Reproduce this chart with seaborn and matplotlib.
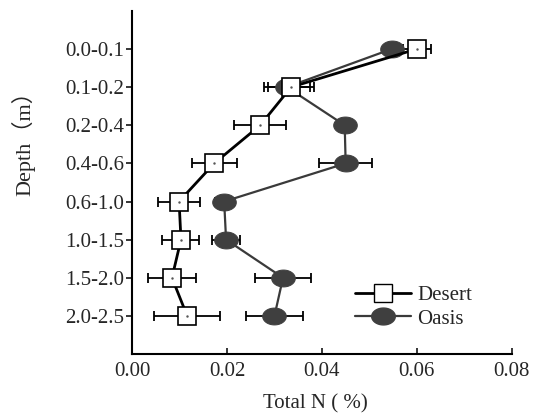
import numpy as np
import seaborn as sns
import matplotlib.pyplot as plt
from matplotlib.lines import Line2D
import warnings
warnings.filterwarnings('ignore')

depth = ["0.0-0.1", "0.1-0.2", "0.2-0.4", "0.4-0.6",
         "0.6-1.0", "1.0-1.5", "1.5-2.0", "2.0-2.5"]
desert = [0.0600, 0.0335, 0.0270, 0.0173, 0.0099, 0.0103, 0.0084, 0.0116]
desert_err = [0.0030, 0.0048, 0.0055, 0.0047, 0.0045, 0.0039, 0.0050, 0.0070]
oasis = [0.0547, 0.0326, 0.0448, 0.0450, 0.0194, 0.0198, 0.0318, 0.0300]
oasis_err = [0.0012, 0.0048, 0.0000, 0.0056, 0.0020, 0.0030, 0.0060, 0.0060]

sns.set_style("ticks")
plt.rcParams["font.family"] = ["Liberation Serif", "Noto Sans CJK SC"]

# marcador elíptico para Oasis
t = np.linspace(0, 2 * np.pi, 40)
ellipse = list(zip(1.4 * np.cos(t), np.sin(t)))

fig = plt.figure(figsize=(5.37, 4.17), dpi=100)
ax = fig.add_axes([0.246, 0.151, 0.707, 0.823])

pos = np.arange(len(depth))

# barras de error
ax.errorbar(desert, pos, xerr=desert_err, fmt="none", ecolor="black",
            elinewidth=1.3, capsize=3.5, capthick=1.3, zorder=2)
ax.errorbar(oasis, pos, xerr=oasis_err, fmt="none", ecolor="black",
            elinewidth=1.3, capsize=3.5, capthick=1.3, zorder=2)

sns.lineplot(x=oasis, y=pos, sort=False, orient="y", ax=ax, color="#3a3a3a",
             linewidth=1.6, marker=ellipse, markersize=17,
             markerfacecolor="#3f3f3f", markeredgecolor="#3f3f3f", zorder=3)
sns.lineplot(x=desert, y=pos, sort=False, orient="y", ax=ax, color="black",
             linewidth=2, marker="s", markersize=13,
             markerfacecolor="white", markeredgecolor="black",
             markeredgewidth=1.2, zorder=4)
ax.plot(desert, pos, linestyle="none", marker=".", markersize=1.5,
        color="#555555", zorder=5)

ax.set_xlim(0, 0.08)
ax.set_ylim(8, -1)
ax.set_xticks([0.00, 0.02, 0.04, 0.06, 0.08])
ax.set_xticklabels(["0.00", "0.02", "0.04", "0.06", "0.08"], fontsize=15)
ax.set_yticks(pos)
ax.set_yticklabels(depth, fontsize=15)
ax.tick_params(axis="x", direction="in", length=4, width=1.3, pad=6)
ax.tick_params(axis="y", direction="out", length=4, width=1.3, pad=1.5)
for s in ["top", "right"]:
    ax.spines[s].set_visible(False)
for s in ["left", "bottom"]:
    ax.spines[s].set_linewidth(1.5)
    ax.spines[s].set_color("black")

ax.set_xlabel("Total N ( %)", fontsize=15)
ax.xaxis.set_label_coords(0.482, -0.118)
ax.set_ylabel("Depth（m）", fontsize=16)
ax.yaxis.set_label_coords(-0.255, 0.63)

handles = [
    Line2D([], [], color="black", linewidth=2, marker="s", markersize=13,
           markerfacecolor="white", markeredgecolor="black"),
    Line2D([], [], color="#3a3a3a", linewidth=1.6, marker=ellipse,
           markersize=17, markerfacecolor="#3f3f3f",
           markeredgecolor="#3f3f3f"),
]
ax.legend(handles, ["Desert", "Oasis"], loc="center left", frameon=False,
          fontsize=15, handlelength=2.7, handletextpad=0.3,
          labelspacing=0.2, borderpad=0, borderaxespad=0,
          bbox_to_anchor=(0.587, 0.137))

plt.savefig("out.png", dpi=100)
